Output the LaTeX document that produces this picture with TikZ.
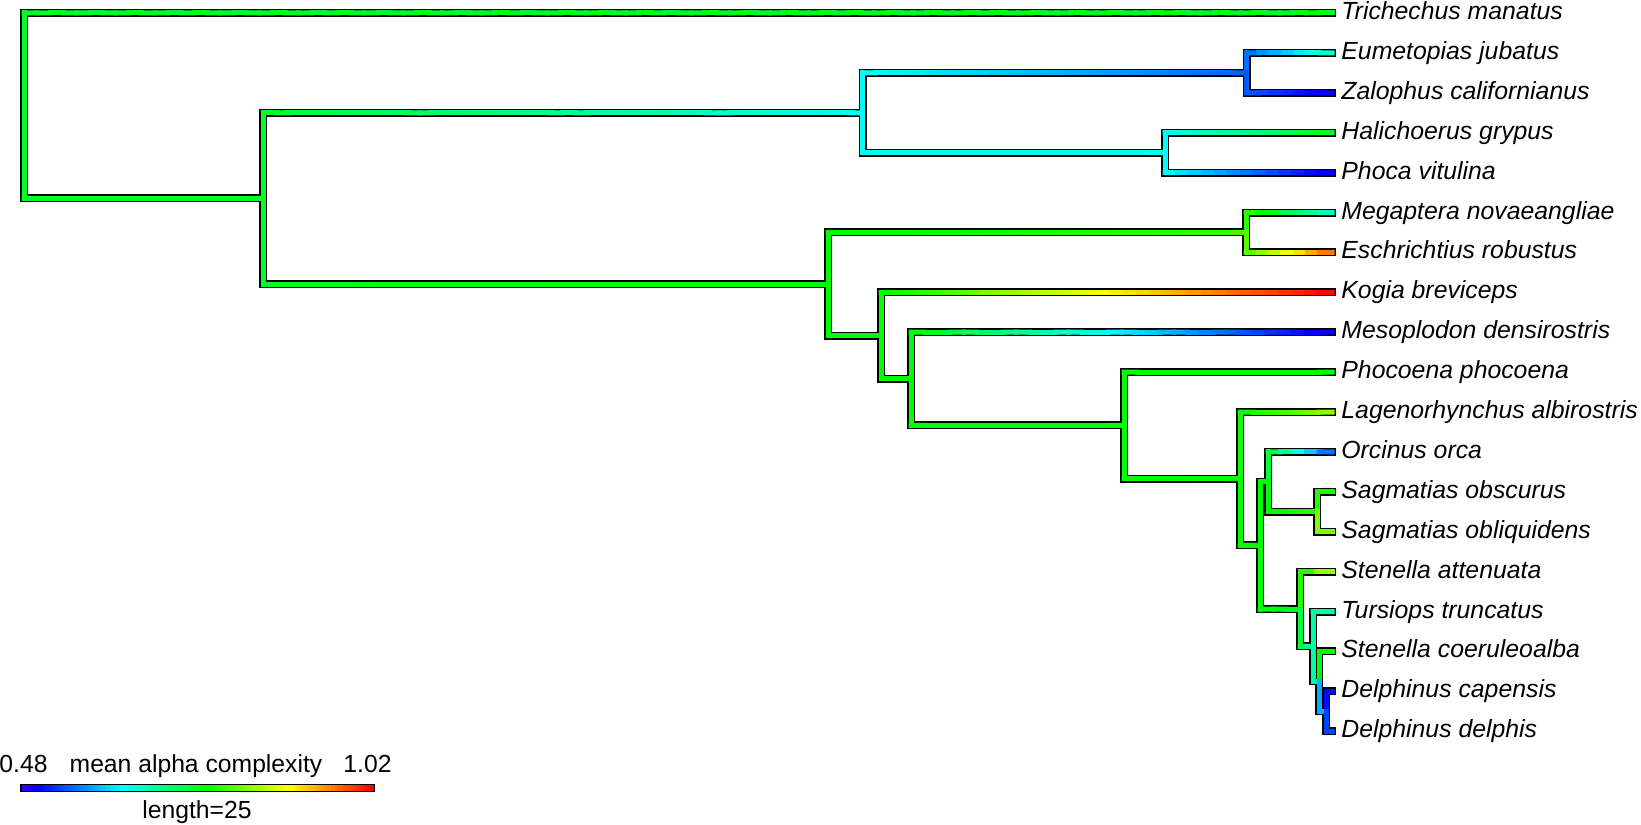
\PassOptionsToPackage{rgb}{xcolor}
\documentclass[tikz,border=0pt]{standalone}
\usepackage{fontspec}
\setmainfont{Liberation Sans}
\usetikzlibrary{calc}
\tikzset{
  outl/.style={draw=black, line width=4pt, line cap=rect, line join=miter},
  colline/.style={line width=2.5pt, line cap=rect},
  tiplabel/.style={anchor=base west, inner sep=0pt, font=\fontsize{12.4pt}{14pt}\selectfont\itshape},
  barlabel/.style={anchor=base, inner sep=0pt, font=\fontsize{12.35pt}{14pt}\selectfont},
}
\newcommand{\sethue}[1]{%
  \convertcolorspec{hsb}{#1,1,1}{rgb}\huergb
  \edef\tmpdef{\noexpand\definecolor{pc}{rgb}{\huergb}}\tmpdef}
% outline pass
\newcommand{\OutBr}[5]{\draw[outl] (#1) -- (#1 |- #2) -- (#2);}
% colour pass
\newcommand{\ColBr}[5]{%
  \path (#1 |- #2) coordinate (cc);
  \foreach \k in {1,...,#5}{
    \pgfmathsetmacro{\ta}{(\k-1)/#5}
    \pgfmathsetmacro{\tb}{\k/#5}
    \pgfmathsetmacro{\hh}{max(0,0.7*(1-(#3+(#4-#3)*(\k-0.5)/#5)))}
    \sethue{\hh}
    \ifnum\k=1\relax \draw[colline, draw=pc] (#1) -- (cc);\fi
    \draw[colline, draw=pc] ($(cc)!\ta!(#2)$) -- ($(cc)!\tb!(#2)$);
  }
}
\newcommand{\TreeList}{%
 \BR{root}{tTri}{0.49}{0.50}{100}
 \BR{root}{n2}{0.49}{0.49}{18}
 \BR{n2}{nPin}{0.49}{0.29}{46}
 \BR{nPin}{nEZ}{0.29}{0.14}{30}
 \BR{nEZ}{tEum}{0.14}{0.34}{7}
 \BR{nEZ}{tZal}{0.14}{0.03}{7}
 \BR{nPin}{nHP}{0.29}{0.29}{23}
 \BR{nHP}{tHal}{0.29}{0.50}{13}
 \BR{nHP}{tPho}{0.29}{0.03}{13}
 \BR{n2}{nCet}{0.49}{0.52}{43}
 \BR{nCet}{nME}{0.52}{0.58}{32}
 \BR{nME}{tMeg}{0.58}{0.33}{7}
 \BR{nME}{tEsc}{0.58}{0.91}{7}
 \BR{nCet}{nKog}{0.52}{0.52}{4}
 \BR{nKog}{tKog}{0.52}{1.00}{35}
 \BR{nKog}{nMes}{0.52}{0.52}{2}
 \BR{nMes}{tMes}{0.52}{0.03}{32}
 \BR{nMes}{nPhc}{0.52}{0.52}{16}
 \BR{nPhc}{tPhc}{0.52}{0.52}{16}
 \BR{nPhc}{nLag}{0.52}{0.53}{9}
 \BR{nLag}{tLag}{0.53}{0.66}{7}
 \BR{nLag}{nOSD}{0.53}{0.52}{2}
 \BR{nOSD}{nOS}{0.52}{0.51}{1}
 \BR{nOS}{tOrc}{0.51}{0.12}{5}
 \BR{nOS}{nSag}{0.51}{0.56}{4}
 \BR{nSag}{tSO}{0.56}{0.54}{1}
 \BR{nSag}{tSOb}{0.56}{0.72}{1}
 \BR{nOSD}{nSA}{0.52}{0.50}{3}
 \BR{nSA}{tStA}{0.50}{0.72}{2}
 \BR{nSA}{nTur}{0.50}{0.37}{2}
 \BR{nTur}{tTur}{0.37}{0.37}{2}
 \BR{nTur}{nSC}{0.37}{0.37}{1}
 \BR{nSC}{tStC}{0.37}{0.67}{1}
 \BR{nSC}{nDel}{0.37}{0.05}{1}
 \BR{nDel}{tDC}{0.05}{0.07}{1}
 \BR{nDel}{tDD}{0.05}{0.17}{1}
}
\begin{document}
\begin{tikzpicture}[x=0.5pt, y=-0.5pt]
\useasboundingbox (0,0) rectangle (1641,824);
% internal nodes
\coordinate (root) at (24,105.7);
\coordinate (n2) at (263,198.4);
\coordinate (nPin) at (862.5,112.75);
\coordinate (nEZ) at (1246.5,72.85);
\coordinate (nHP) at (1165,152.65);
\coordinate (nCet) at (828,284.0);
\coordinate (nME) at (1246,232.45);
\coordinate (nKog) at (881,335.5);
\coordinate (nMes) at (911,378.8);
\coordinate (nPhc) at (1124,425.4);
\coordinate (nLag) at (1240,478.7);
\coordinate (nOSD) at (1260,545.4);
\coordinate (nOS) at (1268,481.8);
\coordinate (nSag) at (1317,511.75);
\coordinate (nSA) at (1300,609.0);
\coordinate (nTur) at (1313,646.4);
\coordinate (nSC) at (1319,681.3);
\coordinate (nDel) at (1326,711.25);
% tips
\foreach \nm/\i in {tTri/0,tEum/1,tZal/2,tHal/3,tPho/4,tMeg/5,tEsc/6,tKog/7,tMes/8,tPhc/9,tLag/10,tOrc/11,tSO/12,tSOb/13,tStA/14,tTur/15,tStC/16,tDC/17,tDD/18}
  \coordinate (\nm) at (1332,{13+39.9*\i});
% outline then colour
\let\BR\OutBr \TreeList
\let\BR\ColBr \TreeList
% tip labels
\node[tiplabel] (lTri) at ($(tTri)+(9,6.5)$) {Trichechus manatus};
\node[tiplabel] (lEum) at ($(tEum)+(9,6.5)$) {Eumetopias jubatus};
\node[tiplabel] (lZal) at ($(tZal)+(9,6.5)$) {Zalophus californianus};
\node[tiplabel] (lHal) at ($(tHal)+(9,6.5)$) {Halichoerus grypus};
\node[tiplabel] (lPho) at ($(tPho)+(9,6.5)$) {Phoca vitulina};
\node[tiplabel] (lMeg) at ($(tMeg)+(9,6.5)$) {Megaptera novaeangliae};
\node[tiplabel] (lEsc) at ($(tEsc)+(9,6.5)$) {Eschrichtius robustus};
\node[tiplabel] (lKog) at ($(tKog)+(9,6.5)$) {Kogia breviceps};
\node[tiplabel] (lMes) at ($(tMes)+(9,6.5)$) {Mesoplodon densirostris};
\node[tiplabel] (lPhc) at ($(tPhc)+(9,6.5)$) {Phocoena phocoena};
\node[tiplabel] (lLag) at ($(tLag)+(9,6.5)$) {Lagenorhynchus albirostris};
\node[tiplabel] (lOrc) at ($(tOrc)+(9,6.5)$) {Orcinus orca};
\node[tiplabel] (lSO) at ($(tSO)+(9,6.5)$) {Sagmatias obscurus};
\node[tiplabel] (lSOb) at ($(tSOb)+(9,6.5)$) {Sagmatias obliquidens};
\node[tiplabel] (lStA) at ($(tStA)+(9,6.5)$) {Stenella attenuata};
\node[tiplabel] (lTur) at ($(tTur)+(9,6.5)$) {Tursiops truncatus};
\node[tiplabel] (lStC) at ($(tStC)+(9,6.5)$) {Stenella coeruleoalba};
\node[tiplabel] (lDC) at ($(tDC)+(9,6.5)$) {Delphinus capensis};
\node[tiplabel] (lDD) at ($(tDD)+(9,6.5)$) {Delphinus delphis};
% colour bar
\fill[black] (20,783.7) rectangle (375,792.3);
\foreach \k in {1,...,100}{
  \pgfmathsetmacro{\hh}{0.7*(1-(\k-0.5)/100)}
  \sethue{\hh}
  \pgfmathsetmacro{\xa}{21.5+3.52*(\k-1)}
  \pgfmathsetmacro{\xb}{min(21.5+3.52*\k+0.3,373.5)}
  \fill[pc] (\xa,785.2) rectangle (\xb,790.8);
}
\coordinate (barL) at (20,788);
\coordinate (barR) at (375,788);
\node[barlabel] (bmin) at (23.5,772.7) {0.48};
\node[barlabel] (btitle) at (196,772.7) {mean alpha complexity};
\node[barlabel] (bmax) at (367.5,772.7) {1.02};
\node[barlabel] (blen) at (197,818) {length=25};
\end{tikzpicture}
\end{document}
